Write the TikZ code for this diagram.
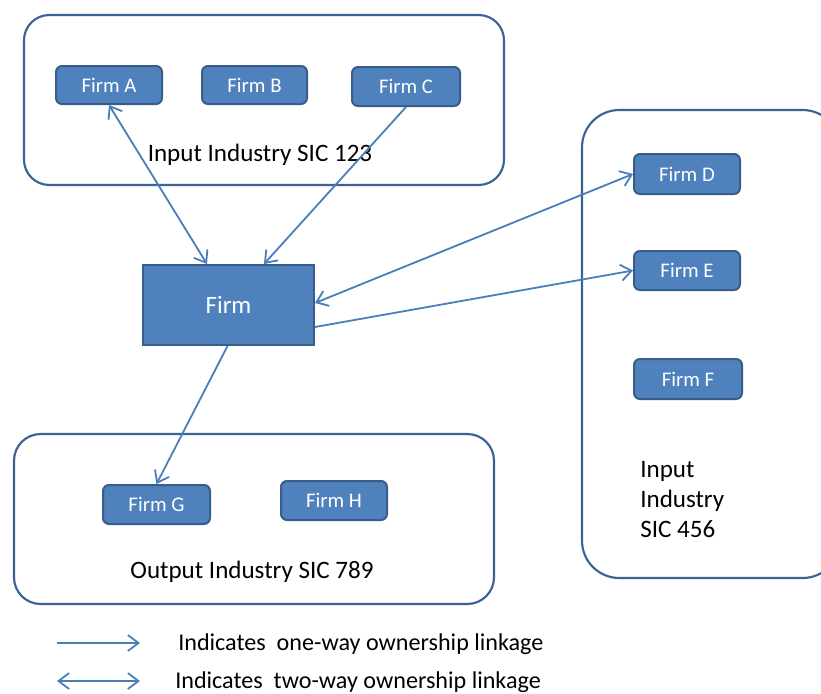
\documentclass[tikz,border=0pt]{standalone}
\usepackage{fontspec}
\setmainfont{Carlito}
\usetikzlibrary{arrows.meta,calc}
\definecolor{firmfill}{HTML}{4F81BD}
\definecolor{firmdraw}{HTML}{385D8A}
\definecolor{linkcol}{HTML}{4A7EBB}
\definecolor{boxdraw}{HTML}{3B6296}
\tikzset{
  firmbox/.style={draw=firmdraw, fill=firmfill, line width=1.5pt, rounded corners=4.5pt,
    text=white, font=\fontsize{15.6}{18}\selectfont, inner sep=0pt},
  industrybox/.style={draw=boxdraw, line width=1.6pt, inner sep=0pt},
  bigfirm/.style={draw=firmdraw, fill=firmfill, line width=1.5pt, text=white,
    font=\fontsize{18.7}{22}\selectfont, inner sep=0pt, minimum width=128.25pt, minimum height=60pt},
  lbl/.style={font=\fontsize{18.8}{22.5}\selectfont, text=black, inner sep=0pt},
  leglbl/.style={font=\fontsize{18.1}{22.5}\selectfont, text=black, inner sep=0pt},
  link/.style={draw=linkcol, line width=1.35pt},
  onearrow/.style={link, -{Straight Barb[length=8pt,width=12pt,line width=1.35pt]}},
  twoarrow/.style={link, {Straight Barb[length=8pt,width=12pt,line width=1.35pt]}-{Straight Barb[length=8pt,width=12pt,line width=1.35pt]}},
}
\begin{document}
\begin{tikzpicture}[x=0.75pt,y=-0.75pt]
\clip (0,0) rectangle (821,693);
\path[fill=white] (0,0) rectangle (821,693);
% industry containers
\node[industrybox, rounded corners=19pt, minimum width=360pt, minimum height=127.5pt] (top) at (264,100) {};
\node[industrybox, rounded corners=28pt, minimum width=193.5pt, minimum height=351pt] (right) at (711,344) {};
\node[industrybox, rounded corners=20pt, minimum width=360pt, minimum height=127.5pt] (bottom) at (254,519) {};
% firms
\node[firmbox, minimum width=79.5pt, minimum height=28.5pt] (fA) at (109,85) {Firm A};
\node[firmbox, minimum width=78.75pt, minimum height=28.5pt] (fB) at (254.5,85) {Firm B};
\node[firmbox, minimum width=81pt, minimum height=29.25pt] (fC) at (406,86.5) {Firm C};
\node[firmbox, minimum width=79.5pt, minimum height=30pt] (fD) at (687,174) {Firm D};
\node[firmbox, minimum width=79.5pt, minimum height=29.25pt] (fE) at (687,270.5) {Firm E};
\node[firmbox, minimum width=81pt, minimum height=30pt] (fF) at (688,379) {Firm F};
\node[firmbox, minimum width=80.25pt, minimum height=29.25pt] (fG) at (156.5,504.5) {Firm G};
\node[firmbox, minimum width=79.5pt, minimum height=29.25pt] (fH) at (334,500.5) {Firm H};
\node[bigfirm] (firm) at (228.5,305) {Firm};
% labels
\node[lbl] (topl) at (260,155) {Input Industry SIC 123};
\node[lbl, anchor=north west, align=left] (rightl) at (640,461) {Input\\Industry\\SIC 456};
\node[lbl] (bottoml) at (252,572) {Output Industry SIC 789};
% links
\draw[twoarrow] (fA.south) -- ([xshift=48.75pt]firm.north west);
\draw[onearrow] (fC.south) -- ([xshift=91.5pt]firm.north west);
\draw[twoarrow] ([yshift=-29.25pt]firm.north east) -- (fD.west);
\draw[onearrow] ([yshift=-47.25pt]firm.north east) -- (fE.west);
\draw[onearrow] ([xshift=-0.75pt]firm.south) -- (fG.north);
% legend
\coordinate (l1a) at (57,643);
\coordinate (l1b) at (140,643);
\coordinate (l2a) at (57,681);
\coordinate (l2b) at (140,681);
\draw[onearrow] (l1a) -- (l1b);
\draw[twoarrow] (l2a) -- (l2b);
\node[leglbl, anchor=west] (leg1) at (178,644) {Indicates\ \ one-way ownership linkage};
\node[leglbl, anchor=west] (leg2) at (175,682) {Indicates\ \ two-way ownership linkage};
\end{tikzpicture}
\end{document}
